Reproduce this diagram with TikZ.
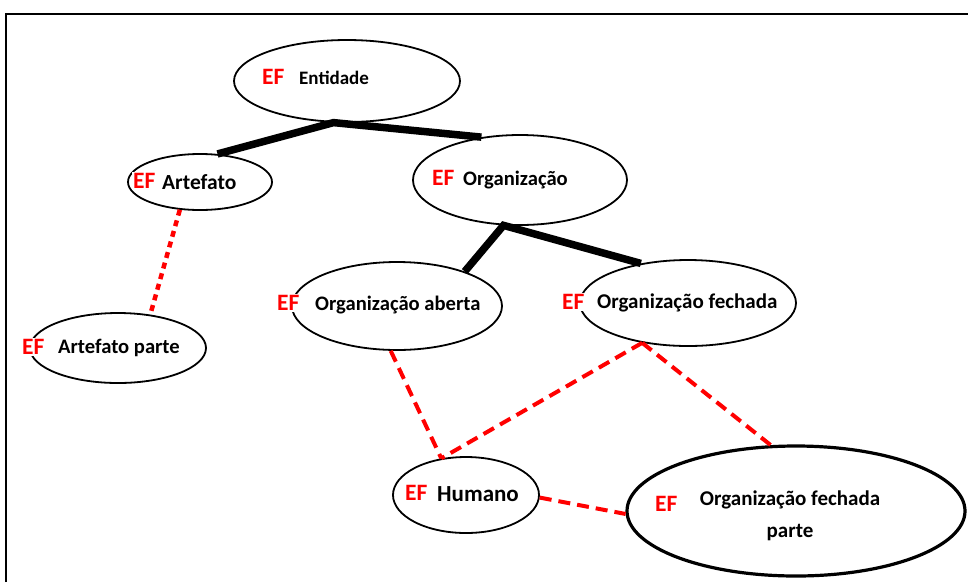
\documentclass[tikz,border=0pt]{standalone}
\usepackage{fontspec}
\setmainfont{Carlito}
\usetikzlibrary{shapes.geometric}
\begin{document}
\begin{tikzpicture}[x=1pt,y=-1pt,
 ell/.style={draw, ellipse, line width=1.8pt, inner sep=0pt},
 lbl/.style={font=\bfseries\fontsize{20.6}{24}\selectfont, inner sep=0pt, anchor=west},
 ef/.style={font=\bfseries\fontsize{23.5}{25}\selectfont, text=red, fill=white, inner sep=1pt, anchor=west},
 tree/.style={line width=7.5pt},
 rel/.style={draw=red, line width=4pt, dash pattern=on 12pt off 7pt},
 reldot/.style={draw=red, line width=4.5pt, dash pattern=on 6pt off 5pt}]
\useasboundingbox (0,0) rectangle (968,582);
\fill[white] (0,0) rectangle (968,582);
\draw[line width=2.5pt] (6,582) -- (6,14) -- (968,14);

% ellipses
\node[ell, minimum width=226pt, minimum height=82pt] (ent) at (347,81) {};
\node[ell, minimum width=144pt, minimum height=56pt] (art) at (200,182) {};
\node[ell, minimum width=214pt, minimum height=90pt] (org) at (520,180) {};
\node[ell, minimum width=210pt, minimum height=88pt] (oa) at (397,306) {};
\node[ell, minimum width=216pt, minimum height=86pt] (of) at (688,303) {};
\node[ell, minimum width=176pt, minimum height=70pt] (ap) at (118,348) {};
\node[ell, minimum width=146pt, minimum height=76pt] (hum) at (466,495) {};
\node[ell, line width=3.2pt, minimum width=338pt, minimum height=130pt] (ofp) at (796,511) {};

% tree links
\draw[tree] (art.58) -- (ent.252) -- (org.132);
\draw[tree] (oa.27) -- (org.250) -- (of.140);

% relations
\draw[reldot] (art.234) -- (ap.46);
\draw[rel] (oa.262) -- (hum.124);
\draw[rel] (of.221) -- (hum.124);
\draw[rel] (of.221) -- (ofp.111);
\draw[rel] (hum.358) -- (ofp.181);

% labels
\node[ef] (entef) at (261,77) {EF};
\node[lbl, font=\bfseries\fontsize{19}{23}\selectfont] (entt) at (299,78) {Entidade};
\node[ef] (artef) at (132,181) {EF};
\node[lbl, font=\bfseries\fontsize{21.5}{24}\selectfont] (artt) at (162,182) {Artefato};
\node[ef] (orgef) at (431,178) {EF};
\node[lbl] (orgt) at (463,180) {Organização};
\node[ef] (oaef) at (276,303) {EF};
\node[lbl] (oat) at (315,305) {Organização aberta};
\node[ef] (ofef) at (561,302) {EF};
\node[lbl, font=\bfseries\fontsize{21}{24}\selectfont] (oft) at (597,303) {Organização fechada};
\node[ef] (apef) at (21,347) {EF};
\node[lbl] (apt) at (58,348) {Artefato parte};
\node[ef] (humef) at (404,493) {EF};
\node[lbl, font=\bfseries\fontsize{23}{25}\selectfont] (humt) at (437,494) {Humano};
\node[ef] (ofpef) at (654,504) {EF};
\node[font=\bfseries\fontsize{21}{32}\selectfont, align=center, inner sep=0pt] (ofpt) at (790,516) {Organização fechada\\parte};
\end{tikzpicture}
\end{document}
